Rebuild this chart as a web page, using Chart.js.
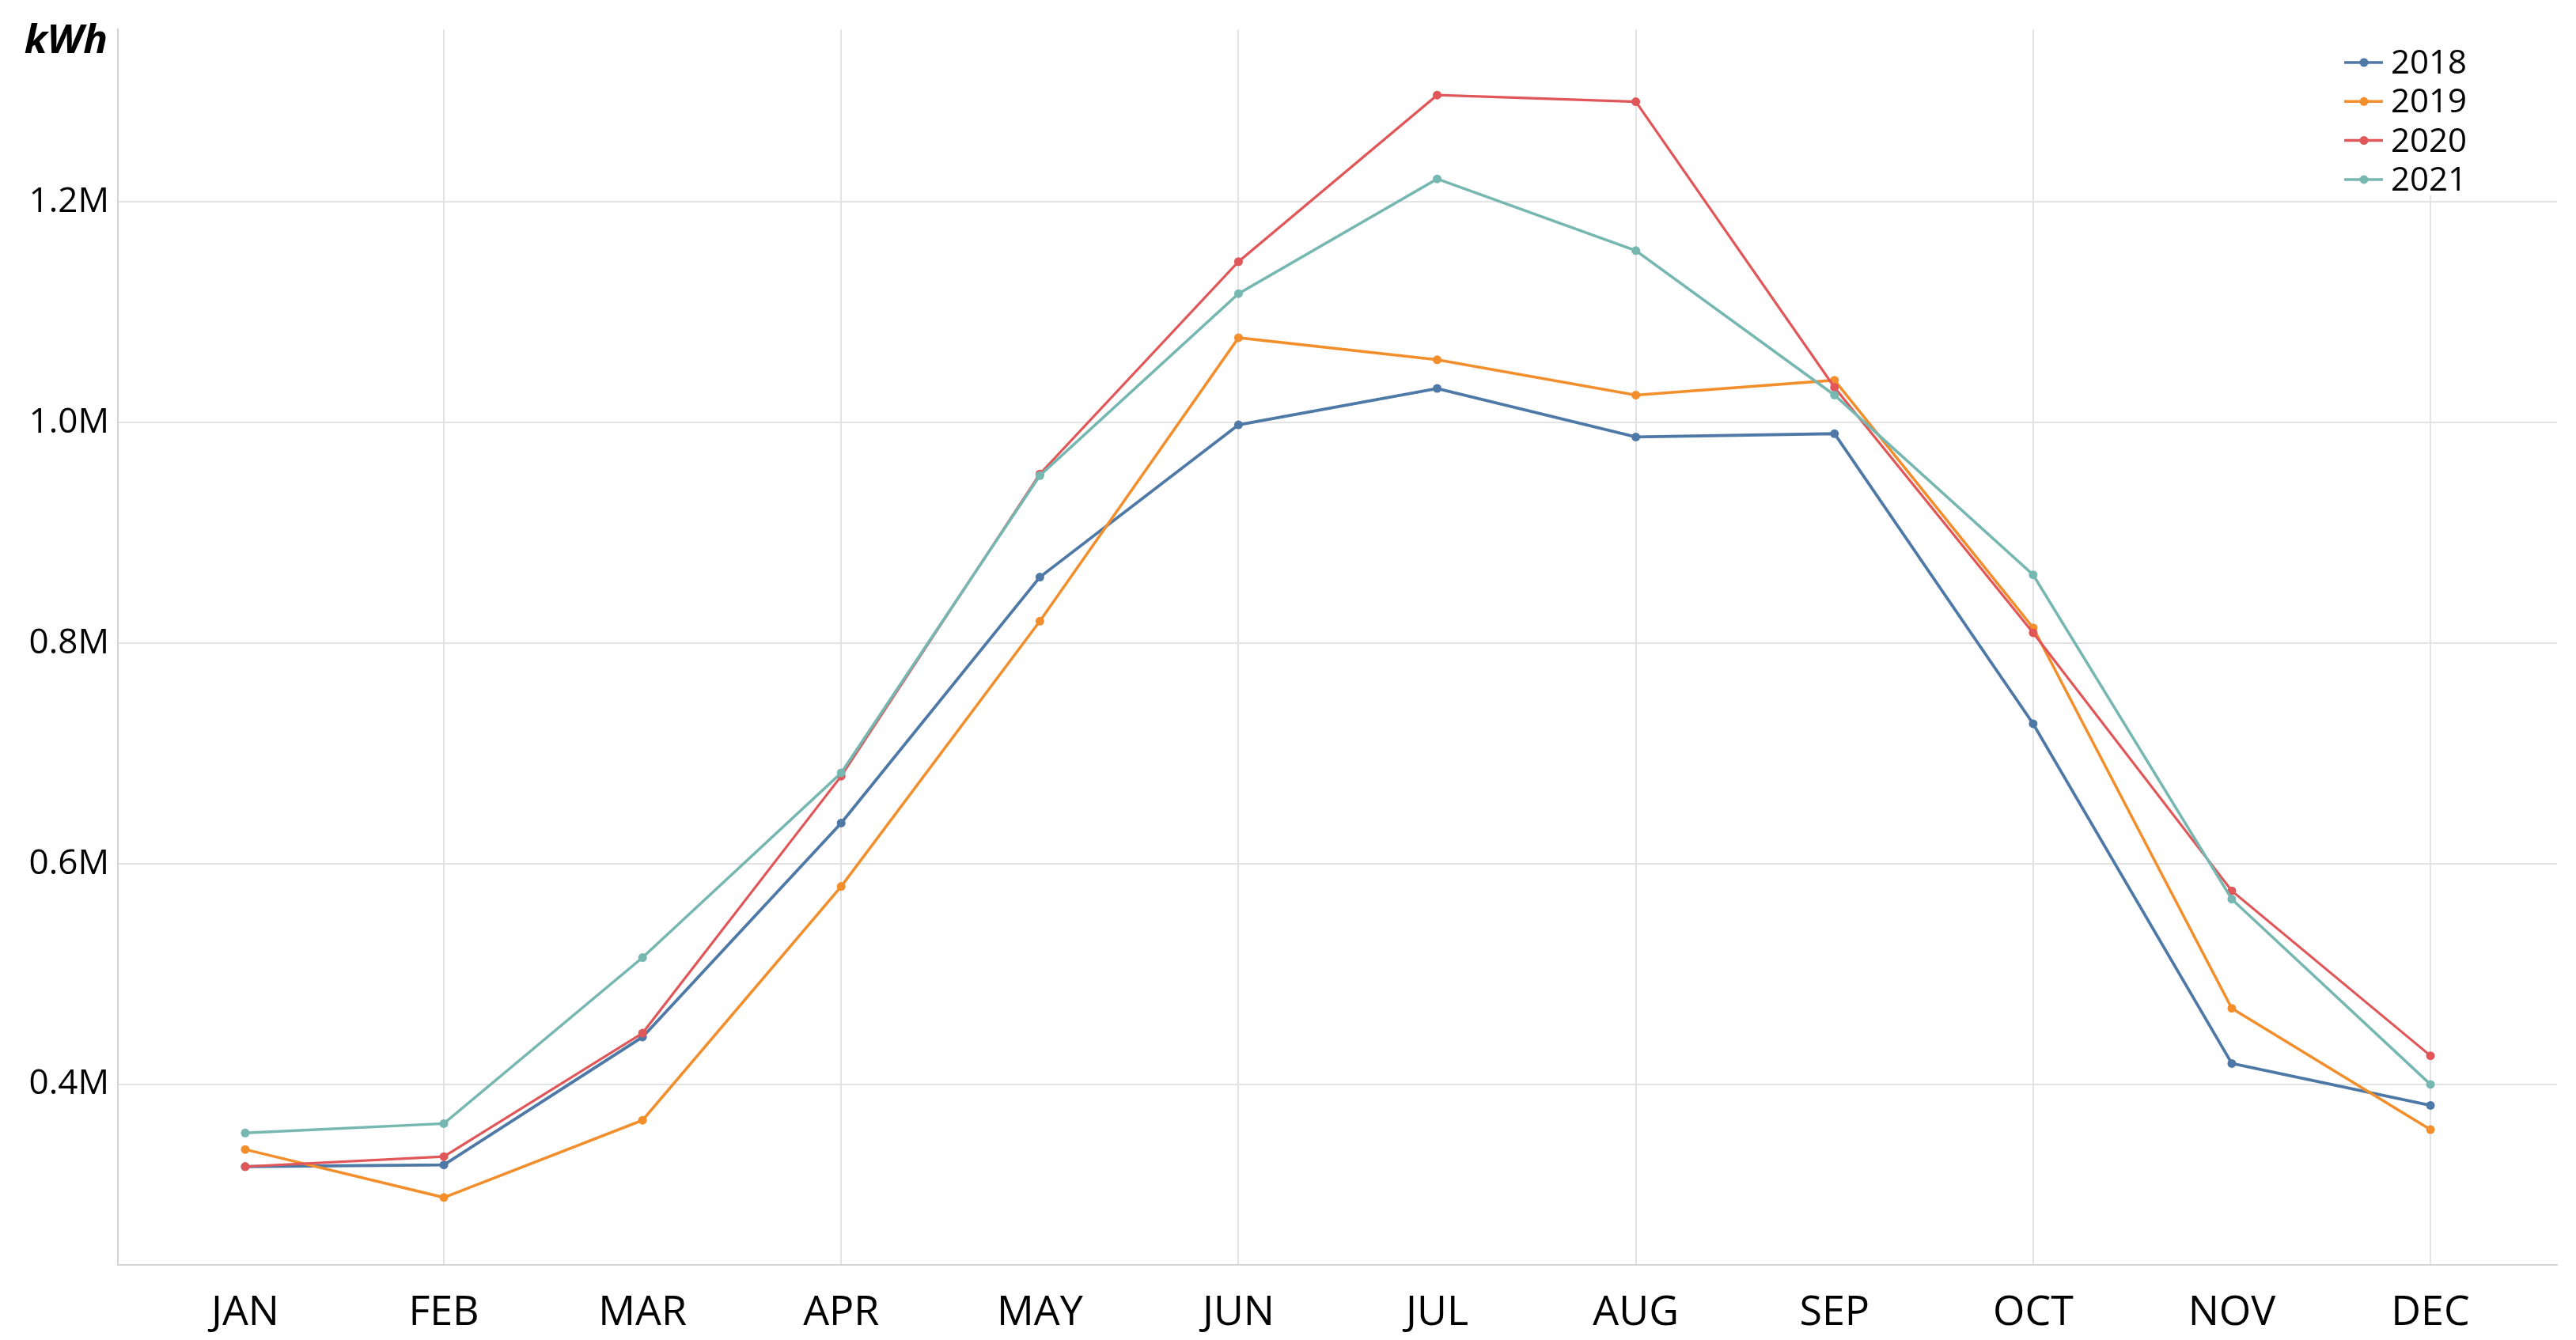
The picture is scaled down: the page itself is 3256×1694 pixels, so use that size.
<!DOCTYPE html>
<html>
<head>
<meta charset="utf-8">
<script src="https://cdn.jsdelivr.net/npm/chart.js@4.4.1/dist/chart.umd.min.js"></script>
<style>
  html, body { margin: 0; padding: 0; background: #ffffff; }
  #wrap { width: 3256px; height: 1694px; }
</style>
</head>
<body>
<div id="wrap"><canvas id="c" width="3256" height="1694"></canvas></div>
<script>
// ---- data ----
const months = ['JAN','FEB','MAR','APR','MAY','JUN','JUL','AUG','SEP','OCT','NOV','DEC'];
const seriesNames = ['2018','2019','2020','2021'];
const kwh2018 = [325500, 327000, 443000, 637000, 860000, 998000, 1031000, 987000, 990000, 727000, 419000, 381000];
const kwh2019 = [341000, 297500, 367500, 579500, 820000, 1077000, 1057000, 1025000, 1038500, 814000, 469000, 359000];
const kwh2020 = [325500, 334500, 446500, 679500, 953500, 1146000, 1297000, 1291000, 1032000, 809500, 575500, 426000];
const kwh2021 = [356000, 364500, 515000, 682500, 952000, 1117000, 1221000, 1156000, 1025000, 862000, 568000, 400000];
const yTickValues = [400000, 600000, 800000, 1000000, 1200000];
const yAxisUnit = 'kWh';

// ---- styling ----
const colors = ['#4e79a7', '#f28e2b', '#e15759', '#76b7b2'];
const lineWidths = [3.8, 3.5, 3.2, 3.5];
const allSeries = [kwh2018, kwh2019, kwh2020, kwh2021];
const FONT = '"Open Sans", "Liberation Sans", sans-serif';
const gridColor = '#e3e3e3';
const axisColor = '#d4d4d4';

const datasets = allSeries.map((vals, i) => ({
  label: seriesNames[i],
  data: vals.map((v, k) => ({ x: k, y: v })),
  borderColor: colors[i],
  backgroundColor: colors[i],
  pointBackgroundColor: colors[i],
  pointBorderColor: colors[i],
  pointBorderWidth: 0,
  pointRadius: 5.5,
  borderWidth: lineWidths[i],
  tension: 0,
  fill: false,
  order: allSeries.length - i
}));

const overlayPlugin = {
  id: 'overlay',
  afterDraw(chart) {
    const ctx = chart.ctx;
    ctx.save();
    // unit label
    ctx.fillStyle = '#000';
    ctx.font = 'italic bold 51px ' + FONT;
    ctx.textAlign = 'right';
    ctx.textBaseline = 'alphabetic';
    ctx.fillText(yAxisUnit, 136, 67);
    // legend
    ctx.fillStyle = '#ffffff';
    ctx.fillRect(2950, 33, 190, 214);
    chart.data.datasets.forEach((ds, i) => {
      const y = 79 + i * 49.3;
      ctx.strokeStyle = ds.borderColor;
      ctx.lineWidth = 3.5;
      ctx.beginPath();
      ctx.moveTo(2963, y);
      ctx.lineTo(3012, y);
      ctx.stroke();
      ctx.fillStyle = ds.borderColor;
      ctx.beginPath();
      ctx.arc(2988, y, 5.5, 0, Math.PI * 2);
      ctx.fill();
      ctx.fillStyle = '#000';
      ctx.font = '42px ' + FONT;
      ctx.textAlign = 'left';
      ctx.textBaseline = 'alphabetic';
      ctx.fillText(ds.label, 3022, y + 14);
    });
    ctx.restore();
  }
};

new Chart(document.getElementById('c'), {
  type: 'line',
  data: { datasets },
  options: {
    responsive: false,
    animation: false,
    devicePixelRatio: 1,
    layout: { padding: { left: 0, right: 24, top: 31, bottom: 0 } },
    plugins: { legend: { display: false }, tooltip: { enabled: false }, title: { display: false } },
    scales: {
      x: {
        type: 'linear',
        min: -0.641,
        max: 11.637,
        afterBuildTicks: (axis) => { axis.ticks = months.map((m, i) => ({ value: i })); },
        afterFit: (axis) => { axis.height = 95; },
        ticks: {
          callback: (v) => months[v],
          font: { family: FONT, size: 52 },
          color: '#000',
          padding: 30,
          maxRotation: 0,
          autoSkip: false
        },
        grid: {
          drawTicks: false,
          lineWidth: 2,
          color: (c) => (c.tick && c.tick.value % 2 === 1) ? gridColor : 'rgba(0,0,0,0)'
        },
        border: { color: axisColor, width: 2 }
      },
      y: {
        type: 'linear',
        min: 236400,
        max: 1356400,
        afterBuildTicks: (axis) => { axis.ticks = yTickValues.map(v => ({ value: v })); },
        afterFit: (axis) => { axis.width = 149; },
        ticks: {
          callback: (v) => (v / 1000000).toFixed(1) + 'M',
          font: { family: FONT, size: 44 },
          color: '#000',
          padding: 11
        },
        grid: { drawTicks: false, lineWidth: 2, color: gridColor },
        border: { color: axisColor, width: 2 }
      }
    }
  },
  plugins: [overlayPlugin]
});
</script>
</body>
</html>
